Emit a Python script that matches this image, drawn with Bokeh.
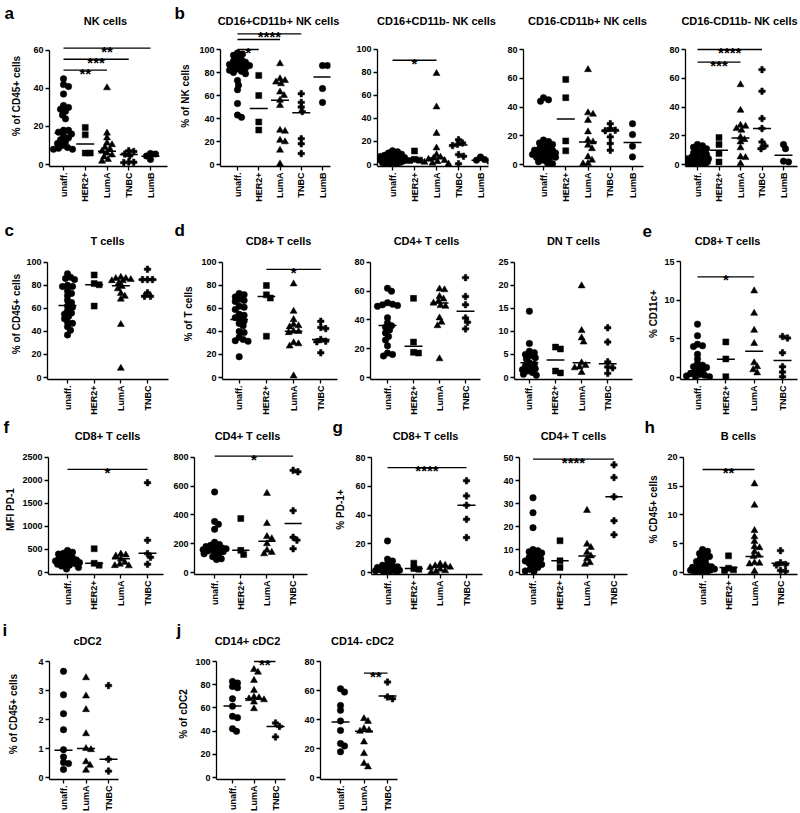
import math
from bokeh.plotting import figure
from bokeh.models import Range1d, FixedTicker
from bokeh.layouts import row, column
from bokeh.embed import file_html
from bokeh.resources import INLINE
from bokeh.core.properties import value

FONT = "Liberation Sans"

# ---------------- categories ----------------
GROUPS5 = ["unaff.", "HER2+", "LumA", "TNBC", "LumB"]
GROUPS4 = ["unaff.", "HER2+", "LumA", "TNBC"]
GROUPS3 = ["unaff.", "LumA", "TNBC"]

# ---------------- data ----------------
nk_cells = {
    "unaff.": [45, 42, 41, 37, 31, 30, 29, 28, 26, 24, 18, 18, 17, 16, 15, 14, 13, 12, 11, 10, 9, 8.5, 8, 8],
    "HER2+": [19.5, 15.6, 6, 6],
    "LumA": [40.3, 16.5, 14, 11.3, 10.4, 9, 8, 7, 6, 5, 4, 2.6, 1.7],
    "TNBC": [7.2, 6.8, 5.5, 4.6, 1.3, 1.2, 1.0],
    "LumB": [5.8, 5.5, 4.5, 2.7],
}
nk_cells_med = [16.5, 10.8, 7, 5.2, 4.3]
nk_cells_sig = [("unaff.", "LumB", 61.2, "**"), ("unaff.", "TNBC", 55.3, "***"), ("unaff.", "LumA", 49.6, "**")]

cd16p_cd11bp = {
    "unaff.": [97, 96, 95, 93, 91, 90, 89, 88, 87, 86, 86, 85, 84, 83, 82, 81, 80, 79, 73, 69, 65, 53, 43, 41],
    "HER2+": [77.5, 60, 37, 30],
    "LumA": [87.6, 74.6, 73, 71.7, 70.2, 63, 60, 55.8, 51.4, 29.8, 28.9, 21, 19.7, 12.4, 0.5],
    "TNBC": [61.6, 54, 50, 46, 22.5, 18, 9.5],
    "LumB": [86, 86, 66, 54],
}
cd16p_cd11bp_med = [86, 48.6, 55.8, 45, 76]
cd16p_cd11bp_sig = [("unaff.", "TNBC", 113.6, "****"), ("unaff.", "LumA", 108.7, ""), ("unaff.", "HER2+", 100, "*")]

cd16p_cd11bn = {
    "unaff.": [12, 11, 10, 9, 8, 8, 7, 7, 6, 6, 5, 5, 4, 4, 3.5, 3, 3, 2.5, 2, 2, 1.5, 1, 1, 0.5],
    "HER2+": [11.8, 4.5, 3.8, 3.5],
    "LumA": [79, 50, 27, 14.4, 8.6, 6.3, 5.5, 4.5, 3.5, 2.5, 2, 1.2, 0.5],
    "TNBC": [21.5, 18.7, 17.5, 16.4, 8.6, 7.2, 0.6],
    "LumB": [6.6, 4.3, 3.8, 2.9],
}
cd16p_cd11bn_med = [4, 4, 5.7, 17, 3.8]
cd16p_cd11bn_sig = [("unaff.", "LumA", 90.5, "*")]

cd16n_cd11bp = {
    "unaff.": [46.5, 45, 44, 17, 16, 15, 14, 13, 12, 11, 10, 10, 9, 9, 8, 8, 7, 7, 6, 6, 5, 5, 4, 3, 2, 1, 0.5],
    "HER2+": [59.2, 46.5, 16.4, 9.5],
    "LumA": [66, 36, 35, 30.7, 22.7, 17, 15.7, 13.4, 11, 5.3, 3, 0.7, 0.5],
    "TNBC": [28.4, 25, 23.9, 23.5, 19.2, 14.6, 9.9],
    "LumB": [28.4, 20.8, 12.7, 5.3],
}
cd16n_cd11bp_med = [10, 31.7, 15.7, 23.4, 15.3]
cd16n_cd11bp_sig = []

cd16n_cd11bn = {
    "unaff.": [14, 13, 12, 11, 10, 9, 8, 7, 6, 5, 5, 4, 4, 3, 3, 2.5, 2, 2, 1.5, 1, 1, 0.8, 0.5, 0.3],
    "HER2+": [18.7, 13.9, 7.6, 1.8],
    "LumA": [55.5, 37.7, 27.3, 26.6, 25, 23.8, 19, 17.3, 15.7, 11.6, 5.3, 4.8, 0.7],
    "TNBC": [66, 51, 32, 25, 15.7, 12.9, 11],
    "LumB": [13.9, 11, 2.3, 1.8],
}
cd16n_cd11bn_med = [2.3, 10, 18.5, 25, 6.5]
cd16n_cd11bn_sig = [("unaff.", "TNBC", 80, "****"), ("unaff.", "LumA", 71.2, "***")]

t_cells = {
    "unaff.": [90, 87, 86, 85, 80, 79, 79, 75, 73, 71, 67, 65, 62, 61, 58, 56, 55, 53, 51, 48, 47, 44, 41, 37],
    "HER2+": [89, 81.5, 80.5, 62],
    "LumA": [87, 86, 86, 85, 84, 84, 82, 79, 77, 73, 70.5, 68, 46, 8],
    "TNBC": [94, 85, 85, 85, 73.5, 70.5, 70.5],
}
t_cells_med = [62.6, 80.6, 79.7, 84.9]
t_cells_sig = []

cd8_t = {
    "unaff.": [73, 72, 70, 68, 67, 66, 62, 61, 59, 55, 54, 52, 51, 49, 47, 45, 40, 39, 35, 33, 32, 31.5, 18],
    "HER2+": [79.9, 71.8, 69, 35.9],
    "LumA": [81.3, 57.5, 50.3, 46, 45, 44, 40.2, 40, 39, 30.2, 29.3, 27.3, 1.4],
    "TNBC": [48.9, 43.5, 42.5, 33, 31.6, 31, 21.5],
}
cd8_t_med = [50.3, 70.4, 40.2, 33]
cd8_t_sig = [("HER2+", "TNBC", 94, "*")]

cd4_t = {
    "unaff.": [62, 60, 52, 51, 50.5, 50, 49.5, 41.5, 38, 36, 35, 33, 31, 28.5, 26, 22, 17, 16, 15],
    "HER2+": [55, 24.6, 17.5, 17],
    "LumA": [61.5, 61, 56.3, 54.5, 53, 51.7, 50, 49.5, 41.4, 38.4, 36, 13],
    "TNBC": [69.4, 56.3, 50.6, 41.4, 38.4, 33.8],
}
cd4_t_med = [36.1, 21.8, 51.7, 46]
cd4_t_sig = []

dn_t = {
    "unaff.": [14.4, 7.4, 5.7, 5.4, 5, 4.7, 4.3, 4, 3.2, 2.9, 2.5, 2.2, 1.9, 1.7, 1.4, 1.1, 0.7, 0.5],
    "HER2+": [6.6, 6.2, 1.4, 1.0],
    "LumA": [19.9, 10.2, 8.6, 7.7, 3.2, 2.6, 2.3, 2.1, 1.1],
    "TNBC": [10.8, 7.7, 3.4, 2.3, 2.1, 0.9],
}
dn_t_med = [3.2, 3.8, 3.2, 3.0]
dn_t_sig = []

cd8_cd11c = {
    "unaff.": [6.9, 5.4, 4.3, 4.1, 4.0, 3.0, 2.4, 1.8, 1.6, 1.4, 1.3, 1.2, 0.9, 0.7, 0.5, 0.4, 0.3, 0.2, 0.1, 0.1],
    "HER2+": [4.6, 2.4, 0.1],
    "LumA": [11.2, 8.3, 6.1, 4.4, 1.9, 1.4, 1.0, 0.6],
    "TNBC": [5.3, 5.1, 3.2, 1.4, 0.7, 0.1],
}
cd8_cd11c_med = [0.86, 2.35, 3.4, 2.2]
cd8_cd11c_sig = [("unaff.", "LumA", 13.0, "*")]

cd8_mfi = {
    "unaff.": [480, 440, 420, 400, 360, 320, 300, 290, 270, 255, 250, 240, 230, 215, 200, 190, 180, 160, 140, 110, 75],
    "HER2+": [517, 201, 158],
    "LumA": [400, 380, 360, 290, 220, 180, 150, 145],
    "TNBC": [1950, 700, 410, 330, 180],
}
cd8_mfi_med = [251, 201, 300, 417]
cd8_mfi_sig = [("unaff.", "TNBC", 2241, "*")]

cd4_mfi = {
    "unaff.": [560, 355, 335, 300, 210, 195, 190, 180, 175, 170, 165, 160, 158, 155, 150, 145, 140, 130, 120, 110, 95, 90],
    "HER2+": [375, 154, 126],
    "LumA": [550, 340, 250, 235, 200, 155, 140, 130],
    "TNBC": [710, 700, 430, 245, 225, 165],
}
cd4_mfi_med = [168, 154, 218, 340]
cd4_mfi_sig = [("unaff.", "TNBC", 809, "*")]

cd8_pd1 = {
    "unaff.": [22, 9.3, 8, 6, 5, 4.5, 4, 3.5, 3, 2.5, 2, 2, 1.5, 1.2, 1, 0.8, 0.5, 0.3],
    "HER2+": [6.5, 2.8, 2.3],
    "LumA": [5.8, 5, 4.6, 3.7, 3.5, 2.3, 1.2, 0.7, 0.2],
    "TNBC": [63.8, 53.3, 46.8, 37, 24.3],
}
cd8_pd1_med = [2.3, 2.8, 3.9, 46.8]
cd8_pd1_sig = [("unaff.", "TNBC", 73, "****")]

cd4_pd1 = {
    "unaff.": [32.5, 26, 19.5, 10, 9.5, 9, 8.5, 8, 7, 6.5, 6, 5.5, 5, 4.3, 4, 3.5, 3, 2.2, 1.4, 0.7, 0.4],
    "HER2+": [13.8, 5.1, 2.2],
    "LumA": [27, 12.3, 10.9, 8.7, 7.2, 6, 4.3, 3.6],
    "TNBC": [46.8, 41.3, 32.9, 22.5, 16.4],
}
cd4_pd1_med = [5.8, 5.1, 7.2, 32.9]
cd4_pd1_sig = [("unaff.", "TNBC", 49.3, "****")]

b_cells = {
    "unaff.": [4.0, 3.7, 3.3, 3.0, 2.8, 2.5, 2.2, 1.9, 1.6, 1.3, 1.1, 1.0, 0.9, 0.8, 0.7, 0.6, 0.55, 0.5, 0.45,
               0.4, 0.35, 0.3, 0.25, 0.2, 0.15],
    "HER2+": [2.9, 0.75, 0.46, 0.35],
    "LumA": [15.4, 11.7, 7.3, 6.2, 5.4, 4.5, 4.3, 3.6, 3.0, 2.8, 1.7, 1.6, 1.5, 0.2],
    "TNBC": [3.8, 1.7, 1.4, 1.3, 0.35, 0.2],
}
b_cells_med = [0.6, 0.85, 2.8, 1.6]
b_cells_sig = [("unaff.", "LumA", 17.9, "**")]

cdc2 = {
    "unaff.": [3.66, 2.85, 2.2, 1.65, 0.96, 0.71, 0.52, 0.48, 0.28],
    "LumA": [3.44, 2.81, 2.34, 1.51, 1.0, 0.96, 0.54, 0.42, 0.25],
    "TNBC": [3.17, 0.63, 0.22],
}
cdc2_med = [0.94, 1.0, 0.63]
cdc2_sig = []

cd14p_cdc2 = {
    "unaff.": [82.8, 81.4, 78.5, 77.4, 67.9, 61.5, 52.7, 51.6, 42.1, 39.8],
    "LumA": [93.1, 90.8, 83.7, 75.1, 69.3, 68.8, 67.9, 67, 65, 59.3],
    "TNBC": [47, 44, 35],
}
cd14p_cdc2_med = [61.6, 67.9, 44]
cd14p_cdc2_sig = [("LumA", "TNBC", 100, "**")]

cd14n_cdc2 = {
    "unaff.": [61.2, 58.9, 49.7, 46.3, 39, 32.5, 23.4, 21.8, 17.7],
    "LumA": [40.6, 38.7, 33.7, 32.5, 31.9, 24.5, 16.5, 9.6, 7.3],
    "TNBC": [65.8, 55.5, 54.3],
}
cd14n_cdc2_med = [38.3, 31.9, 56.2]
cd14n_cdc2_sig = [("LumA", "TNBC", 72, "**")]

# y tick values
ticks_60 = [0, 20, 40, 60]
ticks_100 = [0, 20, 40, 60, 80, 100]
ticks_80 = [0, 20, 40, 60, 80]
ticks_25 = [0, 5, 10, 15, 20, 25]
ticks_15 = [0, 5, 10, 15]
ticks_2500 = [0, 500, 1000, 1500, 2000, 2500]
ticks_800 = [0, 200, 400, 600, 800]
ticks_50 = [0, 10, 20, 30, 40, 50]
ticks_20 = [0, 5, 10, 15, 20]
ticks_4 = [0, 1, 2, 3, 4]

MARKERS = {"unaff.": "circle", "HER2+": "square", "LumA": "triangle", "TNBC": "plus", "LumB": "circle"}
MSIZE = {"circle": 6.5, "square": 6, "triangle": 7, "plus": 6.5}

PAGE_W = 800

# ---------------- layout geometry (page pixels) ----------------
# row: (header_top, panel_top, panel_bottom, title_y, letter_y, specs)
# spec: (data, medians, sig, groups, title, ylabel, yticks,
#        fx0, fx1, L, R, c1, cN, Z, M, title_x, ylab_x, letter, letter_x)
ROWS = [
    (0, 25, 218, 20, 13, [
        (nk_cells, nk_cells_med, nk_cells_sig, GROUPS5, "NK cells", "% of CD45+ cells", ticks_60,
         0, 172, 49, 167, 63, 150, 165, 50, 105, 18, "a", 4),
        (cd16p_cd11bp, cd16p_cd11bp_med, cd16p_cd11bp_sig, GROUPS5, "CD16+CD11b+ NK cells", "% of NK cells", ticks_100,
         172, 352, 220, 330, 237, 322, 164, 49, 278, 187, "b", 174),
        (cd16p_cd11bn, cd16p_cd11bn_med, cd16p_cd11bn_sig, GROUPS5, "CD16+CD11b- NK cells", None, ticks_100,
         352, 500, 377, 488, 392, 480, 165, 49, 436, None, None, 0),
        (cd16n_cd11bp, cd16n_cd11bp_med, cd16n_cd11bp_sig, GROUPS5, "CD16-CD11b+ NK cells", None, ticks_80,
         500, 655, 523, 643, 543, 632, 164, 49, 587, None, None, 0),
        (cd16n_cd11bn, cd16n_cd11bn_med, cd16n_cd11bn_sig, GROUPS5, "CD16-CD11b- NK cells", None, ticks_80,
         655, 800, 685, 797, 697, 783, 164, 49, 739, None, None, 0),
    ]),
    (218, 248, 418, 240, 230, [
        (t_cells, t_cells_med, t_cells_sig, GROUPS4, "T cells", "% of CD45+ cells", ticks_100,
         0, 180, 47, 168, 67, 147, 379, 262, 107, 18, "c", 4),
        (cd8_t, cd8_t_med, cd8_t_sig, GROUPS4, "CD8+ T cells", "% of T cells", ticks_100,
         180, 350, 220, 337, 237, 320, 378, 262, 278, 187, "d", 174),
        (cd4_t, cd4_t_med, cd4_t_sig, GROUPS4, "CD4+ T cells", None, ticks_80,
         350, 495, 370, 480, 387, 465, 378, 262, 426, None, None, 0),
        (dn_t, dn_t_med, dn_t_sig, GROUPS4, "DN T cells", None, ticks_25,
         495, 640, 513, 632, 528, 607, 378, 262, 573, None, None, 0),
        (cd8_cd11c, cd8_cd11c_med, cd8_cd11c_sig, GROUPS4, "CD8+ T cells", "% CD11c+", ticks_15,
         640, 800, 680, 797, 697, 782, 377, 261, 727, 655, "e", 642),
    ]),
    (418, 444, 615, 435, 427, [
        (cd8_mfi, cd8_mfi_med, cd8_mfi_sig, GROUPS4, "CD8+ T cells", "MFI PD-1", ticks_2500,
         0, 170, 48, 163, 67, 147, 573, 457, 107, 12, "f", 3),
        (cd4_mfi, cd4_mfi_med, cd4_mfi_sig, GROUPS4, "CD4+ T cells", None, ticks_800,
         170, 330, 189, 307, 210, 292, 573, 457, 247, None, None, 0),
        (cd8_pd1, cd8_pd1_med, cd8_pd1_sig, GROUPS4, "CD8+ T cells", "% PD-1+", ticks_80,
         330, 500, 371, 482, 387, 466, 572, 457, 425, 342, "g", 332),
        (cd4_pd1, cd4_pd1_med, cd4_pd1_sig, GROUPS4, "CD4+ T cells", None, ticks_50,
         500, 640, 515, 627, 529, 613, 572, 457, 573, None, None, 0),
        (b_cells, b_cells_med, b_cells_sig, GROUPS4, "B cells", "% CD45+ cells", ticks_20,
         640, 800, 683, 797, 702, 780, 573, 457, 738, 655, "h", 644),
    ]),
    (615, 648, 813, 640, 630, [
        (cdc2, cdc2_med, cdc2_sig, GROUPS3, "cDC2", "% of CD45+ cells", ticks_4,
         0, 170, 49, 118, 63, 108, 777, 661, 87, 15, "i", 2),
        (cd14p_cdc2, cd14p_cdc2_med, cd14p_cdc2_sig, GROUPS3, "CD14+ cDC2", "% of cDC2", ticks_100,
         170, 300, 216, 285, 232, 275, 777, 661, 247, 185, "j", 176),
        (cd14n_cdc2, cd14n_cdc2_med, cd14n_cdc2_sig, GROUPS3, "CD14- cDC2", None, ticks_80,
         300, 420, 320, 397, 340, 387, 777, 661, 362, None, None, 0),
    ]),
]


def swarm(vals, k, dia=4.6, step=1.0, cap=12.0):
    """Deterministic beeswarm: horizontal pixel offsets so markers do not pile up."""
    order = sorted(range(len(vals)), key=lambda i: -vals[i])
    cands = [0.0]
    s = step
    while s <= cap:
        cands += [s, -s]
        s += step
    placed, offs = [], [0.0] * len(vals)
    for i in order:
        y = vals[i] * k
        chosen, best, bestd = None, 0.0, -1.0
        for c in cands:
            d = min([math.hypot(c - px, y - py) for px, py in placed] or [1e9])
            if d >= dia:
                chosen = c
                break
            if d > bestd:
                bestd, best = d, c
        if chosen is None:
            chosen = best
        placed.append((chosen, y))
        offs[i] = chosen
    return offs


def blank_fig(w, h):
    p = figure(width=w, height=h, x_range=Range1d(0, w), y_range=Range1d(h, 0),
               output_backend="svg", toolbar_location=None, title=None,
               x_axis_type=None, y_axis_type=None, min_border=0)
    p.outline_line_color = None
    p.xgrid.visible = False
    p.ygrid.visible = False
    return p


def make_header(top, bottom, title_y, letter_y, specs):
    h = blank_fig(PAGE_W, bottom - top)
    tx = [s[15] for s in specs]
    tt = [s[4] for s in specs]
    h.text(x=tx, y=[title_y - top] * len(specs), text=tt, text_align="center", text_baseline="middle",
           text_font=value(FONT), text_font_style="bold", text_font_size="11px", text_color="black")
    lets = [(s[18], s[17]) for s in specs if s[17]]
    h.text(x=[l[0] for l in lets], y=[letter_y - top] * len(lets), text=[l[1] for l in lets],
           text_align="left", text_baseline="middle",
           text_font=value(FONT), text_font_style="bold", text_font_size="17px", text_color="black")
    return h


def make_panel(spec, top, bot):
    (data, med, sig, groups, title, ylabel, yticks, fx0, fx1, L, R, c1, cN, Z, M,
     title_x, ylab_x, letter, letter_x) = spec
    n = len(groups)
    sp = (cN - c1) / (n - 1)
    xs = 1 - (c1 - L) / sp
    xe = n + (R - cN) / sp
    V = yticks[-1]
    k = (Z - M) / V
    T = top
    B = Z + 2
    ys = -(B - Z) / k
    ye = (Z - T) / k

    p = figure(width=fx1 - fx0, height=bot - top, x_range=Range1d(xs, xe), y_range=Range1d(ys, ye),
               output_backend="svg", toolbar_location=None, title=None,
               min_border_left=L - fx0, min_border_right=fx1 - R,
               min_border_top=T - top, min_border_bottom=bot - B)
    p.outline_line_color = None
    p.xgrid.visible = False
    p.ygrid.visible = False
    p.background_fill_color = "white"
    p.border_fill_color = "white"

    for ax in (p.xaxis[0], p.yaxis[0]):
        ax.axis_line_width = 1.3
        ax.axis_line_color = "black"
        ax.major_tick_line_width = 1.3
        ax.major_tick_line_color = "black"
        ax.major_tick_out = 4
        ax.major_tick_in = 0
        ax.minor_tick_out = 0
        ax.minor_tick_in = 0
        ax.major_label_text_font = FONT
        ax.major_label_text_font_style = "bold"
        ax.major_label_text_font_size = "9px"
        ax.major_label_text_color = "black"
        ax.major_label_standoff = 2

    p.xaxis.ticker = FixedTicker(ticks=list(range(1, n + 1)))
    p.xaxis.major_label_overrides = {i + 1: g for i, g in enumerate(groups)}
    p.xaxis.major_label_orientation = math.pi / 2

    p.yaxis.ticker = FixedTicker(ticks=yticks)
    p.yaxis.bounds = (ys, V)
    if ylabel:
        tw = max(len(str(t)) for t in yticks) * 0.556 * 9
        st = (L - ylab_x) - 6 - 4 - 2 - tw
        st_max = (L - fx0) - 4 - 2 - tw - 14
        p.yaxis.axis_label = ylabel
        p.yaxis.axis_label_text_font = FONT
        p.yaxis.axis_label_text_font_style = "bold"
        p.yaxis.axis_label_text_font_size = "10px"
        p.yaxis.axis_label_text_color = "black"
        p.yaxis.axis_label_standoff = int(max(1, min(st, st_max)))

    # points + medians
    for gi, g in enumerate(groups):
        vals = data[g]
        offs = swarm(vals, k)
        xv = [gi + 1 + o / sp for o in offs]
        mk = MARKERS[g]
        p.scatter(xv, vals, marker=mk, size=MSIZE[mk], fill_color="black", line_color="black", line_width=0.5)
    hw = 9.0 / sp
    p.segment(x0=[i + 1 - hw for i in range(n)], x1=[i + 1 + hw for i in range(n)],
              y0=med, y1=med, line_color="black", line_width=1.5)

    # significance bars
    for g1, g2, yv, stars in sig:
        i1 = groups.index(g1) + 1
        i2 = groups.index(g2) + 1
        p.segment(x0=[i1], x1=[i2], y0=[yv], y1=[yv], line_color="black", line_width=1.3)
        if stars:
            p.text(x=[(i1 + i2) / 2], y=[yv], text=[stars], text_align="center", text_baseline="alphabetic",
                   text_font=value(FONT), text_font_style="bold", text_font_size="15px",
                   text_color="black", y_offset=3)
    return p


items = []
for htop, ptop, pbot, title_y, letter_y, specs in ROWS:
    items.append(make_header(htop, ptop, title_y, letter_y, specs))
    items.append(row(*[make_panel(s, ptop, pbot) for s in specs], spacing=0))
layout = column(*items, spacing=0)

open("out.html", "w").write(file_html(layout, INLINE))
